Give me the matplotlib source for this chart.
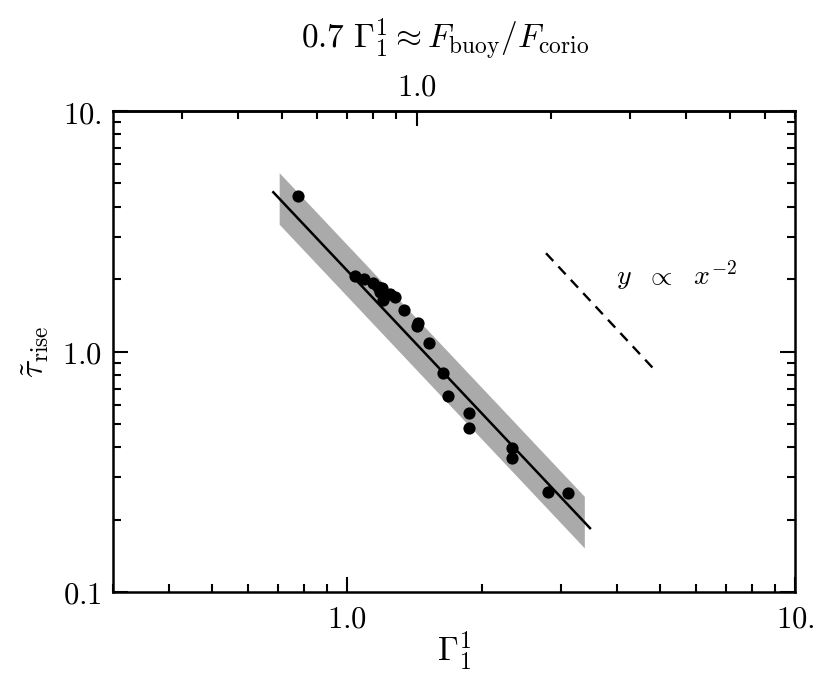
import numpy as np
import matplotlib
matplotlib.use("Agg")
import matplotlib.pyplot as plt
from matplotlib.ticker import FixedLocator, FixedFormatter, LogLocator, NullFormatter

plt.rcParams['mathtext.fontset'] = 'cm'
plt.rcParams['font.family'] = 'serif'
plt.rcParams['font.serif'] = ['DejaVu Serif']

# data points (Gamma_1^1, tau_rise)
gamma = [0.777, 1.042, 1.093, 1.144, 1.170, 1.194, 1.184, 1.200, 1.246, 1.278,
         1.339, 1.440, 1.433, 1.524, 1.637, 1.680, 1.870, 1.870, 2.334, 2.334,
         2.802, 3.113]
tau = [4.44, 2.067, 1.996, 1.921, 1.859, 1.831, 1.773, 1.637, 1.734, 1.690,
       1.488, 1.318, 1.276, 1.088, 0.816, 0.653, 0.553, 0.479, 0.396, 0.362,
       0.261, 0.257]

# power-law fit y = A x^b and its uncertainty band
fit_A = 2.17
fit_b = -1.975
fit_x_range = [0.684, 3.485]
band_x_range = [0.705, 3.385]
band_factor = 1.28

# reference slope line y ∝ x^-2
ref_A = 19.8
ref_x_range = [2.78, 4.87]

x_major = [1.0, 10.0]
x_major_labels = [r'$1.0$', r'$10.$']
y_major = [0.1, 1.0, 10.0]
y_major_labels = [r'$0.1$', r'$1.0$', r'$10.$']
top_major = [1.0]
top_major_labels = [r'$1.0$']
top_factor = 0.7

fig = plt.figure(figsize=(8.14, 6.74), dpi=100)
W, H = 814, 674
ax = fig.add_axes([113 / W, 1 - 592 / H, 682 / W, 481 / H])
ax.set_xscale('log')
ax.set_yscale('log')
ax.set_xlim(0.3, 10)
ax.set_ylim(0.1, 10)

xb = np.geomspace(band_x_range[0], band_x_range[1], 100)
yb = fit_A * xb ** fit_b
ax.fill_between(xb, yb / band_factor, yb * band_factor, color='#aaaaaa', lw=0, zorder=1)

xf = np.geomspace(fit_x_range[0], fit_x_range[1], 100)
ax.plot(xf, fit_A * xf ** fit_b, color='black', lw=1.8, zorder=2)

ax.plot(gamma, tau, 'o', color='black', ms=8.8, mec='none', zorder=3)

xr = np.geomspace(ref_x_range[0], ref_x_range[1], 50)
ax.plot(xr, ref_A * xr ** -2.0, color='black', lw=1.7, ls=(0, (4.5, 3.2)), zorder=2)
ax.text(3.98, 2.08, r'$y\ \ \propto\ \ x^{-2}$', fontsize=20, va='center', ha='left')

fs = 22
ax.xaxis.set_major_locator(FixedLocator(x_major))
ax.xaxis.set_major_formatter(FixedFormatter(x_major_labels))
ax.xaxis.set_minor_locator(LogLocator(base=10, subs=np.arange(2, 10)))
ax.xaxis.set_minor_formatter(NullFormatter())
ax.yaxis.set_major_locator(FixedLocator(y_major))
ax.yaxis.set_major_formatter(FixedFormatter(y_major_labels))
ax.yaxis.set_minor_locator(LogLocator(base=10, subs=np.arange(2, 10)))
ax.yaxis.set_minor_formatter(NullFormatter())

ax.tick_params(which='both', direction='in', top=False, right=True, labelsize=fs, width=1.5)
ax.tick_params(which='major', length=11, pad=8)
ax.tick_params(which='minor', length=6)
for s in ax.spines.values():
    s.set_linewidth(1.8)

sec = ax.secondary_xaxis('top', functions=(lambda x: top_factor * x, lambda x: x / top_factor))
sec.xaxis.set_major_locator(FixedLocator(top_major))
sec.xaxis.set_major_formatter(FixedFormatter(top_major_labels))
sec.xaxis.set_minor_locator(LogLocator(base=10, subs=np.arange(2, 10)))
sec.xaxis.set_minor_formatter(NullFormatter())
sec.tick_params(which='both', direction='in', labelsize=fs, width=1.5)
sec.tick_params(which='major', length=11, pad=6)
sec.tick_params(which='minor', length=6)
sec.spines['top'].set_linewidth(1.8)

ax.set_xlabel(r'$\Gamma_1^1$', fontsize=24, labelpad=-3)
ax.set_ylabel(r'$\tilde{\tau}_{\rm rise}$', fontsize=24, labelpad=8)
fig.text(445 / W, 1 - 40 / H, r'$0.7\ \Gamma_1^1 \approx F_{\rm buoy}/F_{\rm corio}$',
         fontsize=24, ha='center', va='center')

fig.savefig('out.png', dpi=100)
